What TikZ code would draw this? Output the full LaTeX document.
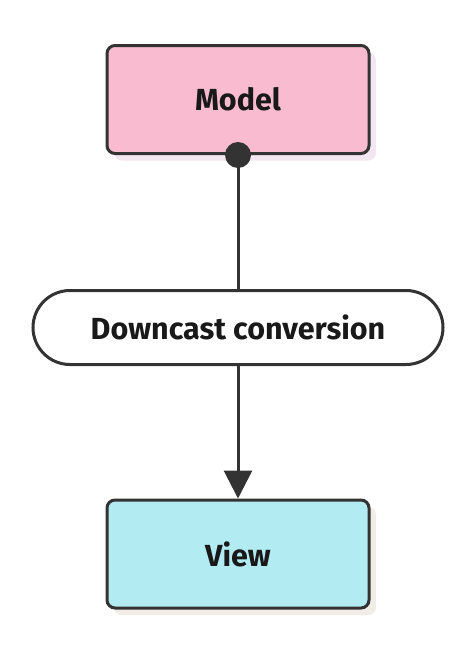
\documentclass[tikz,border=0pt]{standalone}
\usepackage{fontspec}
\setmainfont{Fira Sans}
\usetikzlibrary{shadows, arrows.meta}
\definecolor{edge}{HTML}{333333}
\definecolor{modelfill}{HTML}{F8BBD0}
\definecolor{viewfill}{HTML}{B2EBF2}
\definecolor{modelshade}{HTML}{F2E6F0}
\definecolor{viewshade}{HTML}{F0ECE6}
\tikzstyle{box} = [rectangle,draw=edge,line width=3pt,rounded corners=8pt,minimum width=262pt,minimum height=108pt,text centered,font=\fontsize{30.5}{33}\selectfont\bfseries,text=black!90]
\tikzstyle{pill} = [rectangle,draw=edge,fill=white,line width=3pt,rounded corners=37pt,minimum width=410pt,minimum height=74pt,text centered,font=\fontsize{30.5}{33}\selectfont\bfseries,text=black!90]

\begin{document}
\begin{tikzpicture}[node distance=228pt]
			\useasboundingbox (0pt,0pt) rectangle (476pt,-654pt);
			\node [box,fill=modelfill,drop shadow={shadow xshift=7pt,shadow yshift=-7pt,fill=modelshade,opacity=1}] at (238pt,-99.5pt) (model){Model};
			\node [pill,below of=model] (conv){Downcast conversion};
			\node [box,fill=viewfill,below of=conv,yshift=1.5pt,drop shadow={shadow xshift=7pt,shadow yshift=-7pt,fill=viewshade,opacity=1}] (view){View};
			
			\draw[edge,line width=3pt](model.south)--(conv.north);
			\draw[edge,line width=3pt,-{Triangle[length=28pt,width=28pt]}](conv.south)--(view.north);
			\fill[edge](model.south) circle (13pt);
			\end{tikzpicture}
\end{document}
